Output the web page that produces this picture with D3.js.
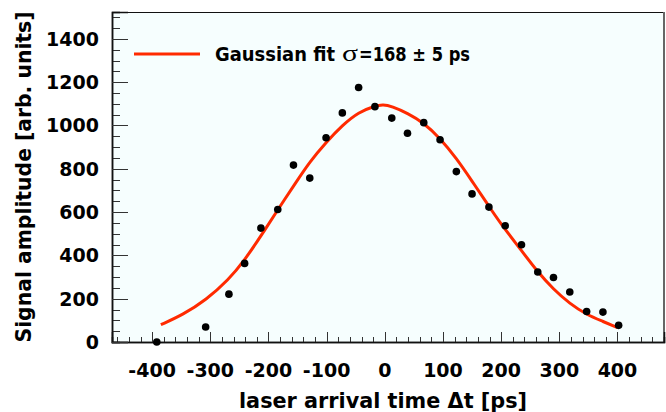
<!DOCTYPE html>
<html>
<head>
<meta charset="utf-8">
<title>Gaussian fit</title>
<script src="https://d3js.org/d3.v7.min.js"></script>
<style>
  body { margin: 0; background: white; }
  text { font-family: "DejaVu Sans", "Liberation Sans", sans-serif; font-weight: bold; fill: black; }
</style>
</head>
<body>
<div id="chart"></div>
<script>
// measured points (time in ps, amplitude in arb. units)
var timePs = [-392, -308, -268, -241, -213, -184, -157, -129, -101, -73, -45, -17, 12, 39, 67, 95, 123, 150, 179, 207, 235, 263, 290, 318, 347, 375, 402];
var amplitude = [0, 69, 221, 363, 526, 612, 817, 757, 943, 1058, 1175, 1087, 1034, 964, 1013, 934, 787, 684, 623, 537, 449, 323, 298, 231, 141, 138, 77];

// fit curve
var fitTime = [-385, -347, -307, -269, -241, -212, -186, -152, -129, -101, -73, -45, -17, -3, 12, 39, 67, 95, 123, 150, 178, 198, 234, 262, 290, 318, 347, 376, 400];
var fitAmp = [80, 126, 195, 286, 378, 493, 603, 740, 832, 922, 1001, 1062, 1090, 1097, 1088, 1057, 1012, 941, 849, 743, 631, 551, 426, 326, 243, 177, 126, 94, 66];

var xTicks = [-400, -300, -200, -100, 0, 100, 200, 300, 400];
var yTicks = [0, 200, 400, 600, 800, 1000, 1200, 1400];

var width = 666, height = 412;
// plot frame (note: "top" is taken by window.top)
var pLeft = 112, pRight = 664, pTop = 12, pBottom = 342;

var svg = d3.select("#chart").append("svg")
    .attr("width", width)
    .attr("height", height);

var x = d3.scaleLinear().domain([-469, 480]).range([pLeft, pRight]);
var y = d3.scaleLinear().domain([0, 1524]).range([pBottom, pTop]);

// plot area background
svg.append("rect")
    .attr("x", pLeft).attr("y", pTop)
    .attr("width", pRight - pLeft).attr("height", pBottom - pTop)
    .attr("fill", "#f6fefe");

// frame: top and right
svg.append("line").attr("x1", pLeft).attr("x2", pRight).attr("y1", pTop + 0.5).attr("y2", pTop + 0.5)
    .attr("stroke", "#111").attr("stroke-width", 1);
svg.append("line").attr("x1", pRight).attr("x2", pRight).attr("y1", pTop).attr("y2", pBottom)
    .attr("stroke", "#666").attr("stroke-width", 2);

// x axis, ticks pointing inward
var xMajor = d3.axisTop(x).tickValues(d3.range(-400, 481, 100)).tickSize(10).tickFormat("");
var xMinor = d3.axisTop(x).tickValues(d3.range(-460, 481, 20)).tickSize(5).tickFormat("");
svg.append("g").attr("transform", "translate(0," + pBottom + ")").call(xMinor);
svg.append("g").attr("transform", "translate(0," + pBottom + ")").call(xMajor);

// y axis, ticks pointing inward
var yMajor = d3.axisRight(y).tickValues(d3.range(0, 1501, 200)).tickSize(16).tickFormat("");
var yMinor = d3.axisRight(y).tickValues(d3.range(0, 1501, 50)).tickSize(8).tickFormat("");
svg.append("g").attr("transform", "translate(" + pLeft + ",0)").call(yMinor);
svg.append("g").attr("transform", "translate(" + pLeft + ",0)").call(yMajor);

svg.selectAll(".domain").attr("stroke", "#111").attr("stroke-width", 1.5);
svg.selectAll(".tick line").attr("stroke", "#333").attr("shape-rendering", "crispEdges");

// tick labels
svg.selectAll(".xlab").data(xTicks).enter().append("text")
    .attr("x", function(d) { return x(d); })
    .attr("y", 377)
    .attr("text-anchor", "middle")
    .style("font-size", "19px")
    .text(function(d) { return d; });

svg.selectAll(".ylab").data(yTicks).enter().append("text")
    .attr("x", 99)
    .attr("y", function(d) { return y(d); })
    .attr("dy", "0.36em")
    .attr("text-anchor", "end")
    .style("font-size", "19px")
    .text(function(d) { return d; });

// axis titles
svg.append("text")
    .attr("x", 383).attr("y", 408)
    .attr("text-anchor", "middle")
    .attr("textLength", 288).attr("lengthAdjust", "spacingAndGlyphs")
    .style("font-size", "21px")
    .text("laser arrival time \u0394t [ps]");

svg.append("text")
    .attr("transform", "translate(31," + ((pTop + pBottom) / 2) + ") rotate(-90)")
    .attr("text-anchor", "middle")
    .attr("textLength", 331).attr("lengthAdjust", "spacingAndGlyphs")
    .style("font-size", "21px")
    .text("Signal amplitude [arb. units]");

// fit curve
var line = d3.line()
    .x(function(d, i) { return x(fitTime[i]); })
    .y(function(d) { return y(d); })
    .curve(d3.curveBasis);

svg.append("path")
    .attr("d", line(fitAmp))
    .attr("fill", "none")
    .attr("stroke", "#ff2a00")
    .attr("stroke-width", 3);

// data points
svg.selectAll(".pt").data(amplitude).enter().append("circle")
    .attr("cx", function(d, i) { return x(timePs[i]); })
    .attr("cy", function(d) { return y(d); })
    .attr("r", 3.8)
    .attr("fill", "black");

// legend: line + three text pieces
svg.append("line")
    .attr("x1", 134).attr("x2", 200).attr("y1", 54).attr("y2", 54)
    .attr("stroke", "#ff2a00").attr("stroke-width", 3);

svg.append("text")
    .attr("x", 215).attr("y", 60.5)
    .attr("textLength", 120).attr("lengthAdjust", "spacingAndGlyphs")
    .style("font-size", "19px")
    .text("Gaussian fit");
svg.append("text")
    .attr("x", 342).attr("y", 60.5)
    .attr("textLength", 16).attr("lengthAdjust", "spacingAndGlyphs")
    .style("font-family", "'Liberation Serif', serif").style("font-weight", "normal")
    .style("font-size", "24px")
    .text("\u03c3");
svg.append("text")
    .attr("x", 359).attr("y", 60.5)
    .attr("textLength", 111).attr("lengthAdjust", "spacingAndGlyphs")
    .style("font-size", "19px")
    .text("=168 \u00b1 5 ps");
</script>
</body>
</html>
